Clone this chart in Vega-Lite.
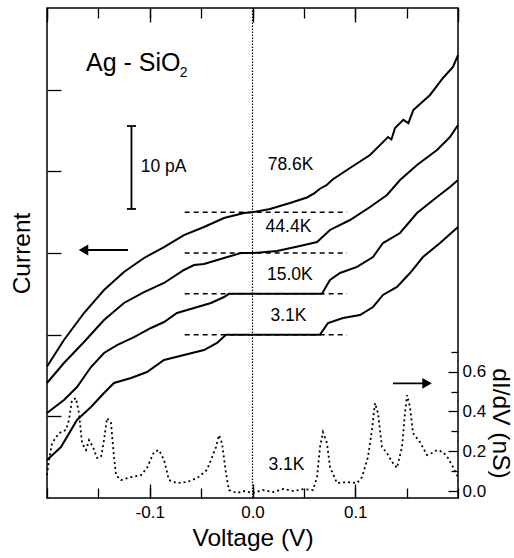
{
  "$schema": "https://vega.github.io/schema/vega-lite/v6.json",
  "width": 411,
  "height": 490,
  "autosize": {"type": "none"},
  "padding": {"left": 47, "top": 8, "right": 56, "bottom": 60},
  "background": "white",
  "config": {
    "view": {"stroke": "black", "strokeWidth": 1.5},
    "font": "Liberation Sans",
    "axis": {
      "domain": false, "grid": false, "ticks": true, "tickColor": "black", "tickWidth": 1.3,
      "labelColor": "black", "labelFont": "Liberation Sans", "labelFontSize": 17,
      "titleColor": "black", "titleFont": "Liberation Sans", "titleFontSize": 24.5,
      "titleFontWeight": "normal", "labelFlush": false, "labelOverlap": false
    }
  },
  "datasets": {
    "iv": [
      {"curve": "78.6K", "v": -0.2, "i": 16.1}, {"curve": "78.6K", "v": -0.1835, "i": 19.35}, {"curve": "78.6K", "v": -0.164, "i": 22.65},
      {"curve": "78.6K", "v": -0.1445, "i": 25.47}, {"curve": "78.6K", "v": -0.1251, "i": 27.67}, {"curve": "78.6K", "v": -0.1056, "i": 29.39},
      {"curve": "78.6K", "v": -0.0861, "i": 30.73}, {"curve": "78.6K", "v": -0.0667, "i": 32.2}, {"curve": "78.6K", "v": -0.0472, "i": 33.18},
      {"curve": "78.6K", "v": -0.0277, "i": 34.29}, {"curve": "78.6K", "v": -0.0083, "i": 34.9}, {"curve": "78.6K", "v": 0.0, "i": 35.0},
      {"curve": "78.6K", "v": 0.017, "i": 35.39}, {"curve": "78.6K", "v": 0.0365, "i": 36.12}, {"curve": "78.6K", "v": 0.053, "i": 36.8},
      {"curve": "78.6K", "v": 0.06, "i": 37.3}, {"curve": "78.6K", "v": 0.066, "i": 37.9}, {"curve": "78.6K", "v": 0.072, "i": 38.3},
      {"curve": "78.6K", "v": 0.078, "i": 39.0}, {"curve": "78.6K", "v": 0.0949, "i": 40.41}, {"curve": "78.6K", "v": 0.1144, "i": 42.0},
      {"curve": "78.6K", "v": 0.1319, "i": 44.2}, {"curve": "78.6K", "v": 0.1352, "i": 43.9}, {"curve": "78.6K", "v": 0.1387, "i": 45.3},
      {"curve": "78.6K", "v": 0.1468, "i": 46.3}, {"curve": "78.6K", "v": 0.1517, "i": 45.9}, {"curve": "78.6K", "v": 0.1565, "i": 47.5},
      {"curve": "78.6K", "v": 0.1728, "i": 49.35}, {"curve": "78.6K", "v": 0.1854, "i": 51.43}, {"curve": "78.6K", "v": 0.1951, "i": 52.78},
      {"curve": "78.6K", "v": 0.2, "i": 54.24},
      {"curve": "44.4K", "v": -0.2, "i": 14.08}, {"curve": "44.4K", "v": -0.1835, "i": 16.53}, {"curve": "44.4K", "v": -0.164, "i": 19.1},
      {"curve": "44.4K", "v": -0.1445, "i": 21.8}, {"curve": "44.4K", "v": -0.1251, "i": 23.88}, {"curve": "44.4K", "v": -0.1056, "i": 25.22},
      {"curve": "44.4K", "v": -0.0861, "i": 26.33}, {"curve": "44.4K", "v": -0.0667, "i": 27.92}, {"curve": "44.4K", "v": -0.0569, "i": 28.53},
      {"curve": "44.4K", "v": -0.0472, "i": 28.65}, {"curve": "44.4K", "v": -0.0277, "i": 29.39}, {"curve": "44.4K", "v": -0.0112, "i": 30.0},
      {"curve": "44.4K", "v": 0.0, "i": 30.0}, {"curve": "44.4K", "v": 0.0238, "i": 30.24}, {"curve": "44.4K", "v": 0.0462, "i": 30.86},
      {"curve": "44.4K", "v": 0.0628, "i": 31.35}, {"curve": "44.4K", "v": 0.0754, "i": 32.82}, {"curve": "44.4K", "v": 0.0949, "i": 34.04},
      {"curve": "44.4K", "v": 0.1144, "i": 35.63}, {"curve": "44.4K", "v": 0.1309, "i": 37.1}, {"curve": "44.4K", "v": 0.1436, "i": 38.94},
      {"curve": "44.4K", "v": 0.1601, "i": 40.77}, {"curve": "44.4K", "v": 0.1796, "i": 42.61}, {"curve": "44.4K", "v": 0.1922, "i": 44.2},
      {"curve": "44.4K", "v": 0.2, "i": 45.67},
      {"curve": "15.0K", "v": -0.2, "i": 10.41}, {"curve": "15.0K", "v": -0.1835, "i": 12.0}, {"curve": "15.0K", "v": -0.1708, "i": 13.59},
      {"curve": "15.0K", "v": -0.1572, "i": 16.04}, {"curve": "15.0K", "v": -0.1445, "i": 17.76}, {"curve": "15.0K", "v": -0.1319, "i": 18.73},
      {"curve": "15.0K", "v": -0.1153, "i": 19.71}, {"curve": "15.0K", "v": -0.0988, "i": 20.82}, {"curve": "15.0K", "v": -0.0861, "i": 21.55},
      {"curve": "15.0K", "v": -0.0735, "i": 22.65}, {"curve": "15.0K", "v": -0.0569, "i": 23.27}, {"curve": "15.0K", "v": -0.0404, "i": 23.88},
      {"curve": "15.0K", "v": -0.0277, "i": 24.61}, {"curve": "15.0K", "v": -0.0229, "i": 25.0}, {"curve": "15.0K", "v": 0.0676, "i": 25.0},
      {"curve": "15.0K", "v": 0.0754, "i": 26.69}, {"curve": "15.0K", "v": 0.0852, "i": 27.55}, {"curve": "15.0K", "v": 0.1017, "i": 28.29},
      {"curve": "15.0K", "v": 0.1173, "i": 29.51}, {"curve": "15.0K", "v": 0.127, "i": 31.22}, {"curve": "15.0K", "v": 0.1436, "i": 32.45},
      {"curve": "15.0K", "v": 0.1601, "i": 34.9}, {"curve": "15.0K", "v": 0.1796, "i": 36.86}, {"curve": "15.0K", "v": 0.1922, "i": 38.08},
      {"curve": "15.0K", "v": 0.2, "i": 38.94},
      {"curve": "3.1K", "v": -0.2, "i": 4.65}, {"curve": "3.1K", "v": -0.1864, "i": 6.24}, {"curve": "3.1K", "v": -0.1708, "i": 9.55},
      {"curve": "3.1K", "v": -0.1572, "i": 11.14}, {"curve": "3.1K", "v": -0.1445, "i": 12.86}, {"curve": "3.1K", "v": -0.1348, "i": 14.08},
      {"curve": "3.1K", "v": -0.1182, "i": 14.69}, {"curve": "3.1K", "v": -0.1027, "i": 15.43}, {"curve": "3.1K", "v": -0.0861, "i": 16.9},
      {"curve": "3.1K", "v": -0.0667, "i": 17.51}, {"curve": "3.1K", "v": -0.0472, "i": 18.12}, {"curve": "3.1K", "v": -0.0345, "i": 18.98},
      {"curve": "3.1K", "v": -0.0258, "i": 20.0}, {"curve": "3.1K", "v": 0.0657, "i": 20.0}, {"curve": "3.1K", "v": 0.0735, "i": 21.43},
      {"curve": "3.1K", "v": 0.0881, "i": 22.04}, {"curve": "3.1K", "v": 0.1046, "i": 22.41}, {"curve": "3.1K", "v": 0.1173, "i": 23.39},
      {"curve": "3.1K", "v": 0.127, "i": 24.86}, {"curve": "3.1K", "v": 0.1406, "i": 25.84}, {"curve": "3.1K", "v": 0.1533, "i": 27.55},
      {"curve": "3.1K", "v": 0.1659, "i": 29.51}, {"curve": "3.1K", "v": 0.1825, "i": 31.22}, {"curve": "3.1K", "v": 0.2, "i": 33.18}
    ],
    "didv": [
      {"v": -0.2, "g": 0.08}, {"v": -0.198, "g": 0.156}, {"v": -0.1951, "g": 0.241}, {"v": -0.1883, "g": 0.291},
      {"v": -0.1815, "g": 0.307}, {"v": -0.1786, "g": 0.357}, {"v": -0.1757, "g": 0.457}, {"v": -0.1718, "g": 0.467},
      {"v": -0.1689, "g": 0.392}, {"v": -0.1659, "g": 0.241}, {"v": -0.162, "g": 0.206}, {"v": -0.1591, "g": 0.256},
      {"v": -0.1552, "g": 0.221}, {"v": -0.1513, "g": 0.166}, {"v": -0.1474, "g": 0.171}, {"v": -0.1445, "g": 0.256},
      {"v": -0.1416, "g": 0.367}, {"v": -0.1377, "g": 0.342}, {"v": -0.1348, "g": 0.171}, {"v": -0.1328, "g": 0.08},
      {"v": -0.128, "g": 0.055}, {"v": -0.1182, "g": 0.07}, {"v": -0.1085, "g": 0.08}, {"v": -0.1027, "g": 0.116},
      {"v": -0.0959, "g": 0.196}, {"v": -0.091, "g": 0.206}, {"v": -0.0861, "g": 0.156}, {"v": -0.0813, "g": 0.055},
      {"v": -0.0735, "g": 0.04}, {"v": -0.0637, "g": 0.045}, {"v": -0.054, "g": 0.065}, {"v": -0.0443, "g": 0.106},
      {"v": -0.0355, "g": 0.221}, {"v": -0.0326, "g": 0.281}, {"v": -0.0297, "g": 0.241}, {"v": -0.0258, "g": 0.09},
      {"v": -0.0229, "g": 0.005}, {"v": -0.0151, "g": -0.01}, {"v": -0.0083, "g": 0.0}, {"v": 0.0, "g": -0.01},
      {"v": 0.01, "g": 0.005}, {"v": 0.02, "g": -0.005}, {"v": 0.03, "g": 0.01}, {"v": 0.04, "g": 0.0},
      {"v": 0.05, "g": 0.01}, {"v": 0.0589, "g": 0.005}, {"v": 0.0628, "g": 0.07}, {"v": 0.0657, "g": 0.221},
      {"v": 0.0686, "g": 0.296}, {"v": 0.0725, "g": 0.241}, {"v": 0.0754, "g": 0.121}, {"v": 0.0822, "g": 0.04},
      {"v": 0.092, "g": 0.045}, {"v": 0.1017, "g": 0.04}, {"v": 0.1066, "g": 0.07}, {"v": 0.1124, "g": 0.171},
      {"v": 0.1163, "g": 0.307}, {"v": 0.1192, "g": 0.442}, {"v": 0.1221, "g": 0.392}, {"v": 0.126, "g": 0.221},
      {"v": 0.1309, "g": 0.191}, {"v": 0.1358, "g": 0.146}, {"v": 0.1406, "g": 0.116}, {"v": 0.1455, "g": 0.221},
      {"v": 0.1484, "g": 0.392}, {"v": 0.1504, "g": 0.482}, {"v": 0.1533, "g": 0.422}, {"v": 0.1562, "g": 0.291},
      {"v": 0.163, "g": 0.246}, {"v": 0.1698, "g": 0.181}, {"v": 0.1747, "g": 0.191}, {"v": 0.1796, "g": 0.206},
      {"v": 0.1854, "g": 0.196}, {"v": 0.1903, "g": 0.166}, {"v": 0.1951, "g": 0.121}, {"v": 0.2, "g": 0.07}
    ],
    "seg": [
      {"kind": "zero", "v": 0.0, "i": 0, "v2": 0.0, "i2": 60},
      {"kind": "level", "v": -0.066, "i": 35, "v2": 0.092, "i2": 35},
      {"kind": "level", "v": -0.066, "i": 30, "v2": 0.092, "i2": 30},
      {"kind": "level", "v": -0.066, "i": 25, "v2": 0.092, "i2": 25},
      {"kind": "level", "v": -0.066, "i": 20, "v2": 0.092, "i2": 20},
      {"kind": "solid", "v": -0.1178, "i": 35.39, "v2": -0.1178, "i2": 45.55},
      {"kind": "solid", "v": -0.1222, "i": 35.39, "v2": -0.1134, "i2": 35.39},
      {"kind": "solid", "v": -0.1222, "i": 45.55, "v2": -0.1134, "i2": 45.55},
      {"kind": "solid", "v": -0.162, "i": 30.37, "v2": -0.1211, "i2": 30.37}
    ],
    "seg_ns": [{"v": 0.1367, "g": 0.541, "v2": 0.168, "g2": 0.541}],
    "head_left": [{"v": -0.1645, "i": 30.37}],
    "head_right": [{"v": 0.1699, "g": 0.541}],
    "labels": [
      {"group": "big", "text": "Ag - SiO", "v": -0.162, "i": 52.28},
      {"group": "sub", "text": "2", "v": -0.0708, "i": 51.55},
      {"group": "normal", "text": "78.6K", "v": 0.037, "i": 40.8},
      {"group": "normal", "text": "44.4K", "v": 0.035, "i": 33.2},
      {"group": "normal", "text": "15.0K", "v": 0.0363, "i": 27.3},
      {"group": "normal", "text": "3.1K", "v": 0.035, "i": 22.3},
      {"group": "normal", "text": "10 pA", "v": -0.0866, "i": 40.47}
    ],
    "labels_ns": [{"text": "3.1K", "v": 0.033, "g": 0.131}]
  },
  "layer": [
    {
      "data": {"name": "didv"},
      "mark": {"type": "line", "strokeDash": [2, 3], "strokeWidth": 1.8, "color": "black"},
      "encoding": {
        "x": {"field": "v", "type": "quantitative", "scale": {"domain": [-0.2, 0.2], "nice": false, "zero": false},
          "axis": {"orient": "bottom", "values": [-0.2,-0.15,-0.1,-0.05,0,0.05,0.1,0.15,0.2], "offset": -10, "tickSize": 10, "labels": false, "title": null}},
        "y": {"field": "g", "type": "quantitative", "scale": {"domain": [-0.035, 2.427], "nice": false, "zero": false},
          "axis": {"orient": "right", "values": [0, 0.2, 0.4, 0.6], "offset": -10, "tickSize": 10, "format": ".1f", "labelPadding": 4,
            "title": "dI/dV (nS)", "titleY": 415, "titlePadding": 2}}
      }
    },
    {
      "data": {"name": "seg_ns"},
      "mark": {"type": "rule", "strokeWidth": 1.8, "color": "black"},
      "encoding": {
        "x": {"field": "v", "type": "quantitative", "scale": {"domain": [-0.2, 0.2], "nice": false, "zero": false},
          "axis": {"orient": "bottom", "values": [-0.1, 0, 0.1], "offset": -14, "tickSize": 14,
            "labelExpr": "(datum.value < -0.001 ? '-' : '') + format(abs(datum.value), '.1f')",
            "labelPadding": 6, "title": "Voltage (V)", "titlePadding": 6}},
        "y": {"field": "g", "type": "quantitative", "scale": {"domain": [-0.035, 2.427], "nice": false, "zero": false},
          "axis": {"orient": "right", "values": [0.1, 0.3, 0.5, 0.7], "offset": -7, "tickSize": 7, "labels": false, "title": null}},
        "x2": {"field": "v2"}, "y2": {"field": "g2"}
      }
    },
    {
      "data": {"name": "head_right"},
      "mark": {"type": "point", "filled": true, "color": "black", "size": 120, "opacity": 1, "shape": "triangle-right"},
      "encoding": {
        "x": {"field": "v", "type": "quantitative", "scale": {"domain": [-0.2, 0.2], "nice": false, "zero": false},
          "axis": {"orient": "top", "values": [-0.2,-0.1,0,0.1,0.2], "tickSize": -14, "labels": false, "title": null}},
        "y": {"field": "g", "type": "quantitative", "scale": {"domain": [-0.035, 2.427], "nice": false, "zero": false}, "axis": null}
      }
    },
    {
      "data": {"name": "labels_ns"},
      "mark": {"type": "text", "fontSize": 17.5, "align": "center", "baseline": "middle", "color": "black"},
      "encoding": {
        "x": {"field": "v", "type": "quantitative", "scale": {"domain": [-0.2, 0.2], "nice": false, "zero": false},
          "axis": {"orient": "top", "values": [-0.2,-0.15,-0.1,-0.05,0,0.05,0.1,0.15,0.2], "tickSize": -10, "labels": false, "title": null}},
        "y": {"field": "g", "type": "quantitative", "scale": {"domain": [-0.035, 2.427], "nice": false, "zero": false}, "axis": null},
        "text": {"field": "text"}
      }
    },
    {
      "data": {"name": "seg"},
      "transform": [{"filter": "datum.kind === 'zero'"}],
      "mark": {"type": "rule", "strokeDash": [1.5, 1.5], "strokeWidth": 1.2, "color": "black"},
      "encoding": {
        "x": {"field": "v", "type": "quantitative", "scale": {"domain": [-0.2, 0.2], "nice": false, "zero": false}, "axis": null},
        "y": {"field": "i", "type": "quantitative", "scale": {"domain": [0, 60], "nice": false, "zero": false},
          "axis": {"orient": "left", "values": [10, 20, 30, 40, 50], "tickSize": -14, "labels": false, "title": "Current", "titlePadding": 12}},
        "x2": {"field": "v2"}, "y2": {"field": "i2"}
      }
    },
    {
      "data": {"name": "seg"},
      "transform": [{"filter": "datum.kind === 'level'"}],
      "mark": {"type": "rule", "strokeDash": [5, 4], "strokeWidth": 1.5, "color": "black"},
      "encoding": {
        "x": {"field": "v", "type": "quantitative", "scale": {"domain": [-0.2, 0.2], "nice": false, "zero": false}, "axis": null},
        "y": {"field": "i", "type": "quantitative", "scale": {"domain": [0, 60], "nice": false, "zero": false}, "axis": null},
        "x2": {"field": "v2"}, "y2": {"field": "i2"}
      }
    },
    {
      "data": {"name": "seg"},
      "transform": [{"filter": "datum.kind === 'solid'"}],
      "mark": {"type": "rule", "strokeWidth": 1.8, "color": "black"},
      "encoding": {
        "x": {"field": "v", "type": "quantitative", "scale": {"domain": [-0.2, 0.2], "nice": false, "zero": false}, "axis": null},
        "y": {"field": "i", "type": "quantitative", "scale": {"domain": [0, 60], "nice": false, "zero": false}, "axis": null},
        "x2": {"field": "v2"}, "y2": {"field": "i2"}
      }
    },
    {
      "data": {"name": "iv"},
      "mark": {"type": "line", "strokeWidth": 2, "color": "black"},
      "encoding": {
        "x": {"field": "v", "type": "quantitative", "scale": {"domain": [-0.2, 0.2], "nice": false, "zero": false}, "axis": null},
        "y": {"field": "i", "type": "quantitative", "scale": {"domain": [0, 60], "nice": false, "zero": false}, "axis": null},
        "detail": {"field": "curve", "type": "nominal"}
      }
    },
    {
      "data": {"name": "head_left"},
      "mark": {"type": "point", "filled": true, "color": "black", "size": 120, "opacity": 1, "shape": "triangle-left"},
      "encoding": {
        "x": {"field": "v", "type": "quantitative", "scale": {"domain": [-0.2, 0.2], "nice": false, "zero": false}, "axis": null},
        "y": {"field": "i", "type": "quantitative", "scale": {"domain": [0, 60], "nice": false, "zero": false}, "axis": null}
      }
    },
    {
      "data": {"name": "labels"},
      "transform": [{"filter": "datum.group === 'normal'"}],
      "mark": {"type": "text", "fontSize": 17.5, "align": "center", "baseline": "middle", "color": "black"},
      "encoding": {
        "x": {"field": "v", "type": "quantitative", "scale": {"domain": [-0.2, 0.2], "nice": false, "zero": false}, "axis": null},
        "y": {"field": "i", "type": "quantitative", "scale": {"domain": [0, 60], "nice": false, "zero": false}, "axis": null},
        "text": {"field": "text"}
      }
    },
    {
      "data": {"name": "labels"},
      "transform": [{"filter": "datum.group === 'big'"}],
      "mark": {"type": "text", "fontSize": 25, "align": "left", "baseline": "alphabetic", "color": "black"},
      "encoding": {
        "x": {"field": "v", "type": "quantitative", "scale": {"domain": [-0.2, 0.2], "nice": false, "zero": false}, "axis": null},
        "y": {"field": "i", "type": "quantitative", "scale": {"domain": [0, 60], "nice": false, "zero": false}, "axis": null},
        "text": {"field": "text"}
      }
    },
    {
      "data": {"name": "labels"},
      "transform": [{"filter": "datum.group === 'sub'"}],
      "mark": {"type": "text", "fontSize": 14, "align": "left", "baseline": "alphabetic", "color": "black"},
      "encoding": {
        "x": {"field": "v", "type": "quantitative", "scale": {"domain": [-0.2, 0.2], "nice": false, "zero": false}, "axis": null},
        "y": {"field": "i", "type": "quantitative", "scale": {"domain": [0, 60], "nice": false, "zero": false}, "axis": null},
        "text": {"field": "text"}
      }
    }
  ],
  "resolve": {"scale": {"y": "independent"}, "axis": {"x": "independent", "y": "independent"}}
}
